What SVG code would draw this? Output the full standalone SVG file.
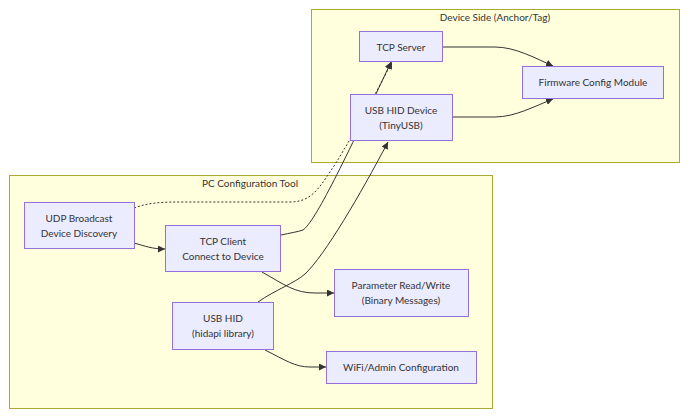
<svg xmlns="http://www.w3.org/2000/svg" width="690" height="420" viewBox="0 0 690 420">
<style>
.cluster rect{fill:#ffffde;stroke:#aaaa33;stroke-width:1}
.node rect{fill:#ECECFF;stroke:#9370DB;stroke-width:1}
text{font-family:"Trebuchet MS",Lato,"DejaVu Sans",sans-serif;font-size:10px;fill:#333;text-anchor:middle;dominant-baseline:central}
.edge{fill:none;stroke:#333;stroke-width:1}
.dotted{stroke-dasharray:2 2}
</style>
<defs>
<marker id="arrow" viewBox="0 0 10 10" refX="10" refY="5" markerWidth="7" markerHeight="7" markerUnits="userSpaceOnUse" orient="auto">
<path d="M0,0 L10,5 L0,10 z" fill="#333"/>
</marker>
</defs>
<g id="cluster-device" class="cluster">
<rect x="311.5" y="9.5" width="368" height="153"/>
<text x="495" y="17">Device Side (Anchor/Tag)</text>
</g>
<g id="cluster-pc" class="cluster">
<rect x="9.5" y="175.5" width="483" height="233"/>
<text x="250" y="183">PC Configuration Tool</text>
</g>
<g id="connectors">
<path class="edge dotted" marker-end="url(#arrow)" d="M134,208 C150,202 165,202 185,202 L290,202 C310,202 318,190 330,172 C345,150 375,95 392,62"/>
<path class="edge" marker-end="url(#arrow)" d="M281,235 C290,233 297,232 303,230 C315,222 345,160 391,62"/>
<path class="edge" marker-end="url(#arrow)" d="M258,302 C275,290 295,283 305,274 C325,255 360,195 388,142"/>
<path class="edge" marker-end="url(#arrow)" d="M134,243 C145,246 152,249 165,249"/>
<path class="edge" marker-end="url(#arrow)" d="M262,272 C285,285 295,293 315,293 L334,293"/>
<path class="edge" marker-end="url(#arrow)" d="M265,350 C285,360 295,367 310,367 L326,367"/>
<path class="edge" marker-end="url(#arrow)" d="M443,47 L495,47 C515,47 535,58 553,66"/>
<path class="edge" marker-end="url(#arrow)" d="M453,117 L495,117 C515,117 535,106 553,99"/>
</g>
<g id="tcp-server" class="node">
<rect x="359.5" y="31.5" width="83" height="30"/>
<text x="401" y="47">TCP Server</text>
</g>
<g id="firmware-config" class="node">
<rect x="522.5" y="66.5" width="141" height="32"/>
<text x="593" y="82">Firmware Config Module</text>
</g>
<g id="usb-hid-device" class="node">
<rect x="350.5" y="94.5" width="102" height="46"/>
<text x="401" y="110">USB HID Device</text>
<text x="401" y="125">(TinyUSB)</text>
</g>
<g id="udp-broadcast" class="node">
<rect x="24.5" y="202.5" width="110" height="46"/>
<text x="79" y="218">UDP Broadcast</text>
<text x="79" y="233">Device Discovery</text>
</g>
<g id="tcp-client" class="node">
<rect x="165.5" y="225.5" width="115" height="46"/>
<text x="223" y="241">TCP Client</text>
<text x="223" y="256">Connect to Device</text>
</g>
<g id="usb-hid" class="node">
<rect x="172.5" y="302.5" width="101" height="47"/>
<text x="223" y="318">USB HID</text>
<text x="223" y="333">(hidapi library)</text>
</g>
<g id="param-rw" class="node">
<rect x="334.5" y="269.5" width="134" height="47"/>
<text x="401" y="285">Parameter Read/Write</text>
<text x="401" y="300">(Binary Messages)</text>
</g>
<g id="wifi-admin" class="node">
<rect x="326.5" y="351.5" width="150" height="32"/>
<text x="401" y="367">WiFi/Admin Configuration</text>
</g>
</svg>
